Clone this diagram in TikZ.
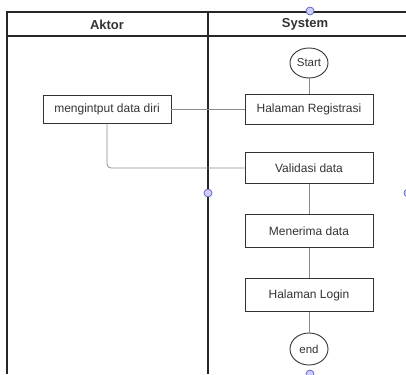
\documentclass[tikz,border=0pt]{standalone}
\usepackage{fontspec}
\setmainfont{Liberation Sans}
\usetikzlibrary{shapes.geometric}
\begin{document}
\begin{tikzpicture}[x=1pt,y=-1pt,
  frame/.style={draw=black!85,line width=1.2pt},
  stepbox/.style={draw=black!80,line width=0.9pt,minimum width=128pt,minimum height=30pt,inner sep=0pt,font=\fontsize{12}{14}\selectfont,text=black!80},
  term/.style={draw=black!80,line width=0.9pt,ellipse,minimum width=38pt,minimum height=32pt,inner sep=0pt,font=\fontsize{11.5}{13}\selectfont,text=black!80},
  conn/.style={draw=black!45,line width=0.8pt},
  handle/.style={circle,draw=blue!60!black!70,fill=blue!20,line width=0.6pt,minimum size=8pt,inner sep=0pt},
  head/.style={font=\bfseries\fontsize{13}{15}\selectfont,text=black!80}
]
\useasboundingbox (0,0) rectangle (406,374);
% swimlane frame
\draw[frame] (406,12) -- (7,12) -- (7,374);
\draw[frame] (7,36) -- (406,36);
\draw[frame] (208,12) -- (208,374);
\node[head] (hA) at (107,24.5) {Aktor};
\node[head] (hS) at (305,24.5) {System};
% nodes
\node[term,minimum height=30pt] (start) at (309,63) {Start};
\node[stepbox] (reg) at (309,109) {Halaman Registrasi};
\node[stepbox,minimum height=28pt] (input) at (107,109) {mengintput data diri};
\node[stepbox,minimum height=31pt] (val) at (309,168) {Validasi data};
\node[stepbox,minimum height=33pt] (terima) at (309,231) {Menerima data};
\node[stepbox,minimum height=33pt] (login) at (309,295) {Halaman Login};
\node[term] (end) at (309,349) {end};
% connectors
\draw[conn] (start) -- (reg);
\draw[conn] (input) -- (reg);
\draw[conn,rounded corners=4pt] (input.south) |- (val.west);
\draw[conn] (val) -- (terima);
\draw[conn] (terima) -- (login);
\draw[conn] (login) -- (end);
% handles
\node[handle] (h1) at (310,11) {};
\node[handle] (h2) at (208,193) {};
\node[handle] (h3) at (310,374) {};
\node[handle] (h4) at (408,193) {};
\end{tikzpicture}
\end{document}
